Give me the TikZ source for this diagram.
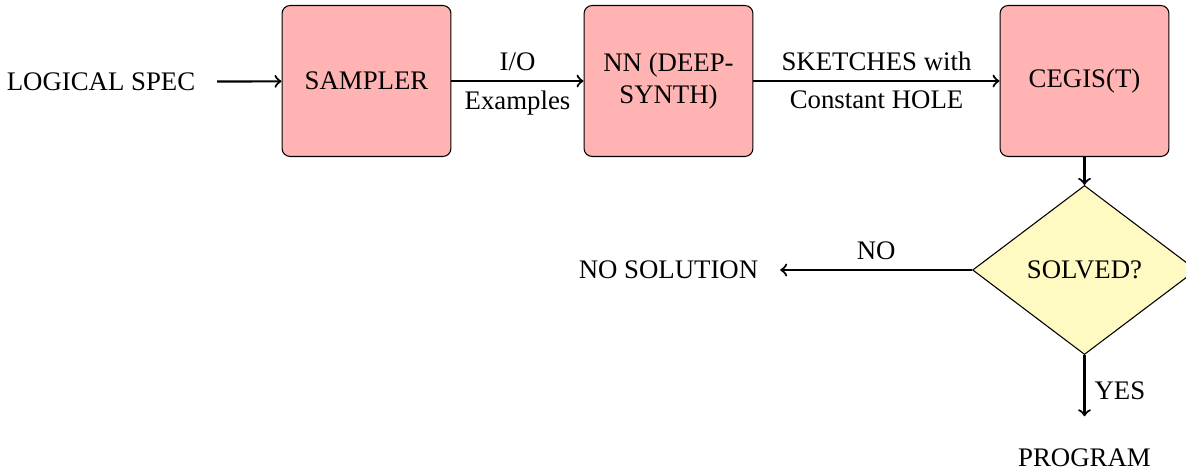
\documentclass[tikz,border=0pt]{standalone}
\usepackage{fontspec}
\setmainfont{Liberation Serif}
\usetikzlibrary{shapes.geometric}
\definecolor{blockpink}{RGB}{255,179,179}
\definecolor{decisionyellow}{RGB}{255,249,194}

\begin{document}
\begin{tikzpicture}[x=0.373pt,y=0.373pt,
  block/.style={draw,thin,fill=blockpink,rounded corners=3pt,minimum width=63pt,minimum height=56.3pt,align=center},
  decision/.style={draw,thin,fill=decisionyellow,diamond,minimum width=83.5pt,minimum height=62pt},
  plain/.style={inner sep=8pt},
  flow/.style={->,thick}]
  \useasboundingbox (0,0) rectangle (1186,472);
  \node[plain] (spec) at (101,390) {LOGICAL SPEC};
  \node[block] (sampler) at (366.5,391) {SAMPLER};
  \node[block] (nn) at (668.5,391) {NN (DEEP-\\SYNTH)};
  \node[block] (cegis) at (1084.5,391) {CEGIS(T)};
  \node[decision] (solved) at (1084.5,202) {SOLVED?};
  \node[plain] (nosol) at (668.5,202) {NO SOLUTION};
  \node[plain] (prog) at (1084.5,14) {PROGRAM};
  \draw[flow] (spec)--(sampler);
  \draw[flow] (sampler)--node[above] {I/O} node[below] {Examples} (nn);
  \draw[flow] (nn)--node[above] {SKETCHES with} node[below] {Constant HOLE} (cegis);
  \draw[flow] (cegis)--(solved);
  \draw[flow] (solved)--node[above] {NO} (nosol);
  \draw[flow,shorten >=4pt] (solved)--node[right] {YES} (prog);
\end{tikzpicture}
\end{document}
